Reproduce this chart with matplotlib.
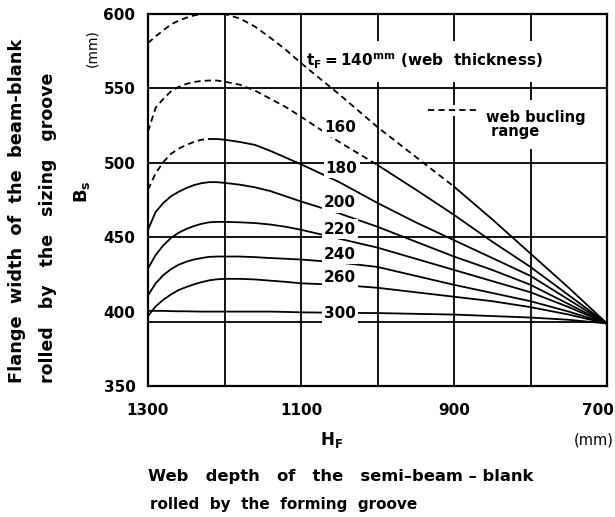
import matplotlib
matplotlib.use('Agg')
import matplotlib.pyplot as plt
import matplotlib.transforms as mtransforms
import numpy as np

# web depth of the semi-beam-blank H_F (mm)
hf = [1300, 1290, 1280, 1270, 1260, 1250, 1240, 1230, 1220, 1210, 1200, 1180,
      1160, 1140, 1120, 1100, 1050, 1000, 950, 900, 850, 800, 750, 700]

# flange width B_s (mm) for each web thickness t_F
bs_140 = [580.5, 585, 589, 593, 595.5, 597.5, 599, 600, 600.5, 600.5, 600, 597,
          591.5, 584, 576, 567, 546, 524, 504, 484, 462, 439, 416, 392]
bs_160 = [521, 537, 543, 548, 551, 553, 554.3, 555, 555.3, 555.3, 554.5, 552.5,
          548.5, 543, 537.5, 531, 514, 498.5, 482, 465, 447, 430, 411, 392]
bs_180 = [482, 493, 500.5, 506, 509.5, 512, 514, 515.5, 516, 516, 515.5, 514,
          512, 508, 503.5, 499, 487, 473, 460, 448, 436, 424, 408, 392]
bs_200 = [455, 467, 473, 477.5, 480.5, 483, 485, 486.3, 487, 487, 486.5, 485.3,
          483.5, 481, 477.5, 474, 466, 457, 447, 437, 428, 418, 405, 392]
bs_220 = [429, 438, 444.5, 449.5, 453, 455.5, 457.5, 459, 460, 460.3, 460.3, 460,
          459.5, 458.5, 457, 455, 449, 443, 435.5, 428, 420.5, 413, 403, 392]
bs_240 = [411, 419, 424.5, 428.5, 431.5, 433.5, 435, 436, 436.8, 437, 437, 437,
          436.6, 436, 435.5, 435, 433, 430, 424, 418, 412.5, 407, 400, 392]
bs_260 = [397, 403.5, 408, 411.5, 414.5, 416.5, 418.3, 419.8, 421, 421.7, 422, 422,
          421.6, 420.8, 420, 419, 418, 416, 413, 410, 407, 403, 398, 392]
bs_300 = [400.5, 400.5, 400.5, 400.3, 400.2, 400.2, 400.1, 400, 400, 400, 400, 400,
          400, 400, 399.8, 399.5, 399.2, 399, 398.5, 398, 397, 396, 394.5, 392]

curves = [bs_140, bs_160, bs_180, bs_200, bs_220, bs_240, bs_260, bs_300]
# web buckling range: dashed down to this H_F
dash_end = [900, 1000, 1220, None, None, None, None, None]

labels = ['160', '180', '200', '220', '240', '260', '300']
label_x = [1049, 1047, 1049, 1049, 1049, 1049, 1049]
label_y = [524, 496.5, 473, 455.5, 438.5, 423, 399]

W, H = 615, 517
plt.rcParams['font.family'] = 'DejaVu Sans'
plt.rcParams['font.weight'] = 'bold'
plt.rcParams['lines.scale_dashes'] = False

fig = plt.figure(figsize=(W / 100, H / 100), dpi=100)
ax = fig.add_axes([148 / W, 1 - 386 / H, (607 - 148) / W, (386 - 14) / H])


def fx(px):
    return px / W


def fy(py):
    return 1 - py / H


ax.set_xlim(1300, 700)
ax.set_ylim(350, 600)

# grid
for x in [1200, 1100, 1000, 900, 800]:
    ax.axvline(x, color='black', lw=1.3, zorder=1.6 if x == 1100 else 1)
for y in [550, 500, 450]:
    ax.axhline(y, color='black', lw=1.3, zorder=1)
ax.axhline(393, color='black', lw=1.3, zorder=1)

hf_arr = np.array(hf)
for bs, dend in zip(curves, dash_end):
    bs = np.array(bs)
    if dend is None:
        ax.plot(hf_arr, bs, color='black', lw=1.3, zorder=2)
    else:
        m = hf_arr >= dend
        ax.plot(hf_arr[m], bs[m], color='black', lw=1.3, dashes=(4.5, 3), zorder=2)
        m = hf_arr <= dend
        ax.plot(hf_arr[m], bs[m], color='black', lw=1.3, zorder=2)

box = dict(facecolor='white', edgecolor='none', pad=1.5)
for lab, x, y in zip(labels, label_x, label_y):
    ax.text(x, y, lab, ha='center', va='center', fontsize=11, bbox=box, zorder=3)

ax.text(1093, 568, r'$\mathbf{t_F = 140^{mm}}$ (web  thickness)', ha='left', va='center',
        fontsize=11, bbox=dict(facecolor='white', edgecolor='none', pad=8), zorder=1.5)

# legend
ax.plot([934, 870], [535.5, 535.5], color='white', lw=8, zorder=1.5)
ax.plot([934, 870], [535.5, 535.5], color='black', lw=1.3, dashes=(4.5, 3), zorder=3)
ax.text(858, 535.5, 'web bucling\n range', ha='left', va='top', fontsize=10.5,
        linespacing=0.9, bbox=dict(facecolor='white', edgecolor='none', pad=7), zorder=1.5)

ax.set_xticks([1300, 1100, 900, 700])
ax.set_yticks([350, 400, 450, 500, 550, 600])
ax.tick_params(length=0, labelsize=11)
ax.tick_params(axis='y', pad=9)
ax.tick_params(axis='x', pad=12)
for lab in ax.get_xticklabels() + ax.get_yticklabels():
    lab.set_fontweight('bold')
last = ax.get_xticklabels()[-1]
last.set_transform(last.get_transform() +
                   mtransforms.ScaledTranslation(-9 / 100, 0, fig.dpi_scale_trans))
for s in ax.spines.values():
    s.set_linewidth(1.6)

fig.text(fx(92), fy(48), '(mm)', rotation=90, ha='center', va='center', fontsize=10,
         fontweight='normal')
fig.text(fx(82), fy(192), r'$\mathbf{B_s}$', rotation=90, ha='center', va='center', fontsize=13)
fig.text(fx(17), fy(383), 'Flange  width  of  the  beam-blank', rotation=90,
         ha='center', va='bottom', fontsize=12.8)
fig.text(fx(48), fy(383), 'rolled   by   the   sizing   groove', rotation=90,
         ha='center', va='bottom', fontsize=12.5)

fig.text(fx(332), fy(440), r'$\mathbf{H_F}$', ha='center', va='center', fontsize=12)
fig.text(fx(614), fy(440), '(mm)', ha='right', va='center', fontsize=10.5, fontweight='normal')
fig.text(fx(148), fy(477), 'Web   depth   of   the   semi–beam – blank', ha='left',
         va='center', fontsize=11.8)
fig.text(fx(150), fy(505), 'rolled  by  the  forming  groove', ha='left', va='center',
         fontsize=11)

fig.savefig('out.png', dpi=100)
